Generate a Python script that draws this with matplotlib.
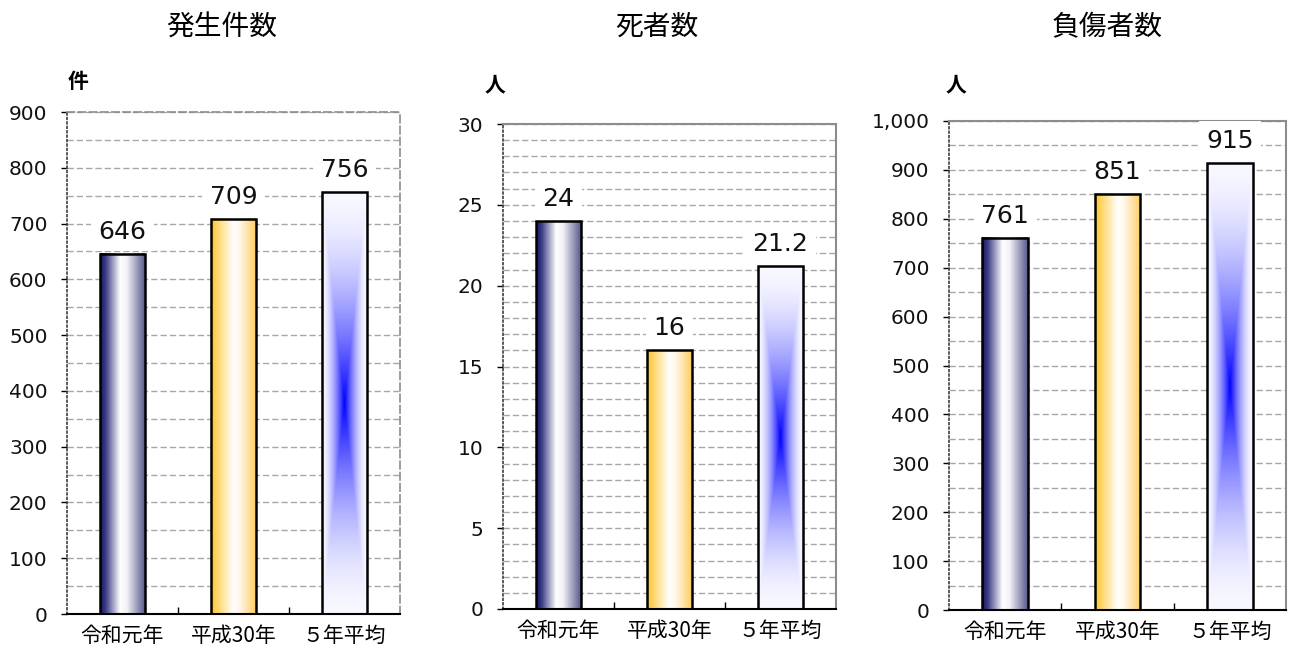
import numpy as np
import matplotlib
matplotlib.use('Agg')
import matplotlib.pyplot as plt
from matplotlib.colors import LinearSegmentedColormap, to_rgb
from matplotlib.patches import Rectangle
from matplotlib.ticker import MultipleLocator, FixedLocator, FuncFormatter

plt.rcParams['font.family'] = ['Noto Sans CJK JP', 'DejaVu Sans']

# --- data ---
categories = ['令和元年', '平成30年', '５年平均']
titles = ['発生件数', '死者数', '負傷者数']
units = ['件', '人', '人']
incidents = [646, 709, 756]
deaths = [24, 16, 21.2]
injured = [761, 851, 915]

# --- per-panel layout (pixels) and axis settings ---
W, H = 1293, 653
panels = [
    dict(vals=incidents, rect=(67, 112, 400, 614), ymax=900, major=100, minor=50,
         title_x=222, unit_xy=(78, 81), dashed_frame=True),
    dict(vals=deaths, rect=(503, 124, 836, 609), ymax=30, major=5, minor=1,
         title_x=657, unit_xy=(495, 85), dashed_frame=False),
    dict(vals=injured, rect=(949, 121, 1286, 610), ymax=1000, major=100, minor=50,
         title_x=1107, unit_xy=(956, 85), dashed_frame=False),
]

BAR_W = 0.405
DASH = (0, (4.5, 2.2))
NUM_FONT = 'DejaVu Sans'

navy = LinearSegmentedColormap.from_list('navy', [
    (0.0, '#17175e'), (0.12, '#3a3a85'), (0.45, '#ffffff'),
    (0.6, '#f2f2f7'), (1.0, '#5a5a8e')])
gold = LinearSegmentedColormap.from_list('gold', [
    (0.0, '#ffc52a'), (0.2, '#ffdd80'), (0.5, '#ffffff'),
    (0.65, '#fff6e6'), (1.0, '#ffcd62')])


def horiz_img(cmap):
    x = np.linspace(0, 1, 200)
    return cmap(x)[None, :, :3]


def blue_img():
    # rectangular "from centre" gradient
    ny, nx = 400, 120
    t = np.linspace(0, 1, ny)[:, None]
    x = np.linspace(0, 1, nx)[None, :]
    d = np.maximum(np.abs(2 * x - 1), np.abs(2 * t - 1))
    s = np.clip(1 - d, 0, 1) ** 1.7
    base = np.array(to_rgb('#f8f8ff'))
    blue = np.array(to_rgb('#0000ff'))
    return base * (1 - s[..., None]) + blue * s[..., None]


imgs = [horiz_img(navy), horiz_img(gold), blue_img()]

fig = plt.figure(figsize=(W / 100, H / 100), dpi=100)

for k, p in enumerate(panels):
    l, t, r, b = p['rect']
    ax = fig.add_axes([l / W, 1 - b / H, (r - l) / W, (b - t) / H])
    ymax = p['ymax']

    for i, v in enumerate(p['vals']):
        x0 = i - BAR_W / 2
        ax.imshow(imgs[i], extent=(x0, x0 + BAR_W, 0, v), origin='lower',
                  aspect='auto', interpolation='bilinear', zorder=2)
        ax.add_patch(Rectangle((x0, 0), BAR_W, v, fill=False, edgecolor='black',
                               linewidth=1.8, zorder=3))
        ax.annotate(f'{v:g}', xy=(i, v), xytext=(0, 15), textcoords='offset pixels',
                    ha='center', va='baseline', fontsize=18, family=NUM_FONT,
                    color='#111111', zorder=5,
                    bbox=dict(boxstyle='square,pad=0.3', facecolor='white',
                              edgecolor='none'))

    ax.set_xlim(-0.5, 2.5)
    ax.set_ylim(0, ymax)

    ax.set_xticks(range(3))
    ax.set_xticklabels(categories, fontsize=15)
    ax.xaxis.set_minor_locator(FixedLocator([0.5, 1.5]))
    ax.tick_params(axis='x', which='major', length=0, pad=8)
    ax.tick_params(axis='x', which='minor', direction='in', length=5, width=1)

    ax.yaxis.set_major_locator(MultipleLocator(p['major']))
    ax.yaxis.set_minor_locator(MultipleLocator(p['minor']))
    ax.yaxis.set_major_formatter(FuncFormatter(lambda y, _: f'{y:,.0f}'))
    ax.tick_params(axis='y', which='major', direction='out', length=4, width=1,
                   labelsize=14.5, pad=10, labelcolor='#111111')
    ax.tick_params(axis='y', which='minor', length=0)
    for lab in ax.get_yticklabels():
        lab.set_family(NUM_FONT)

    ax.set_axisbelow(True)
    ax.grid(axis='y', which='both', color='#a8a8a8', linestyle=DASH, linewidth=1)

    ax.spines['bottom'].set_color('black')
    ax.spines['bottom'].set_linewidth(1.5)
    ax.spines['left'].set_color('#404040')
    ax.spines['left'].set_linestyle(':')
    ax.spines['left'].set_linewidth(1.2)
    for s in ('top', 'right'):
        ax.spines[s].set_color('#8c8c8c')
        ax.spines[s].set_linewidth(1.5)
        if p['dashed_frame']:
            ax.spines[s].set_linestyle(DASH)
            ax.spines[s].set_linewidth(1.2)

    fig.text(p['title_x'] / W, 1 - 27 / H, titles[k], ha='center', va='center',
             fontsize=20)
    ux, uy = p['unit_xy']
    fig.text(ux / W, 1 - uy / H, units[k], ha='center', va='center',
             fontsize=15, fontweight='bold')

fig.savefig('out.png', dpi=100)
